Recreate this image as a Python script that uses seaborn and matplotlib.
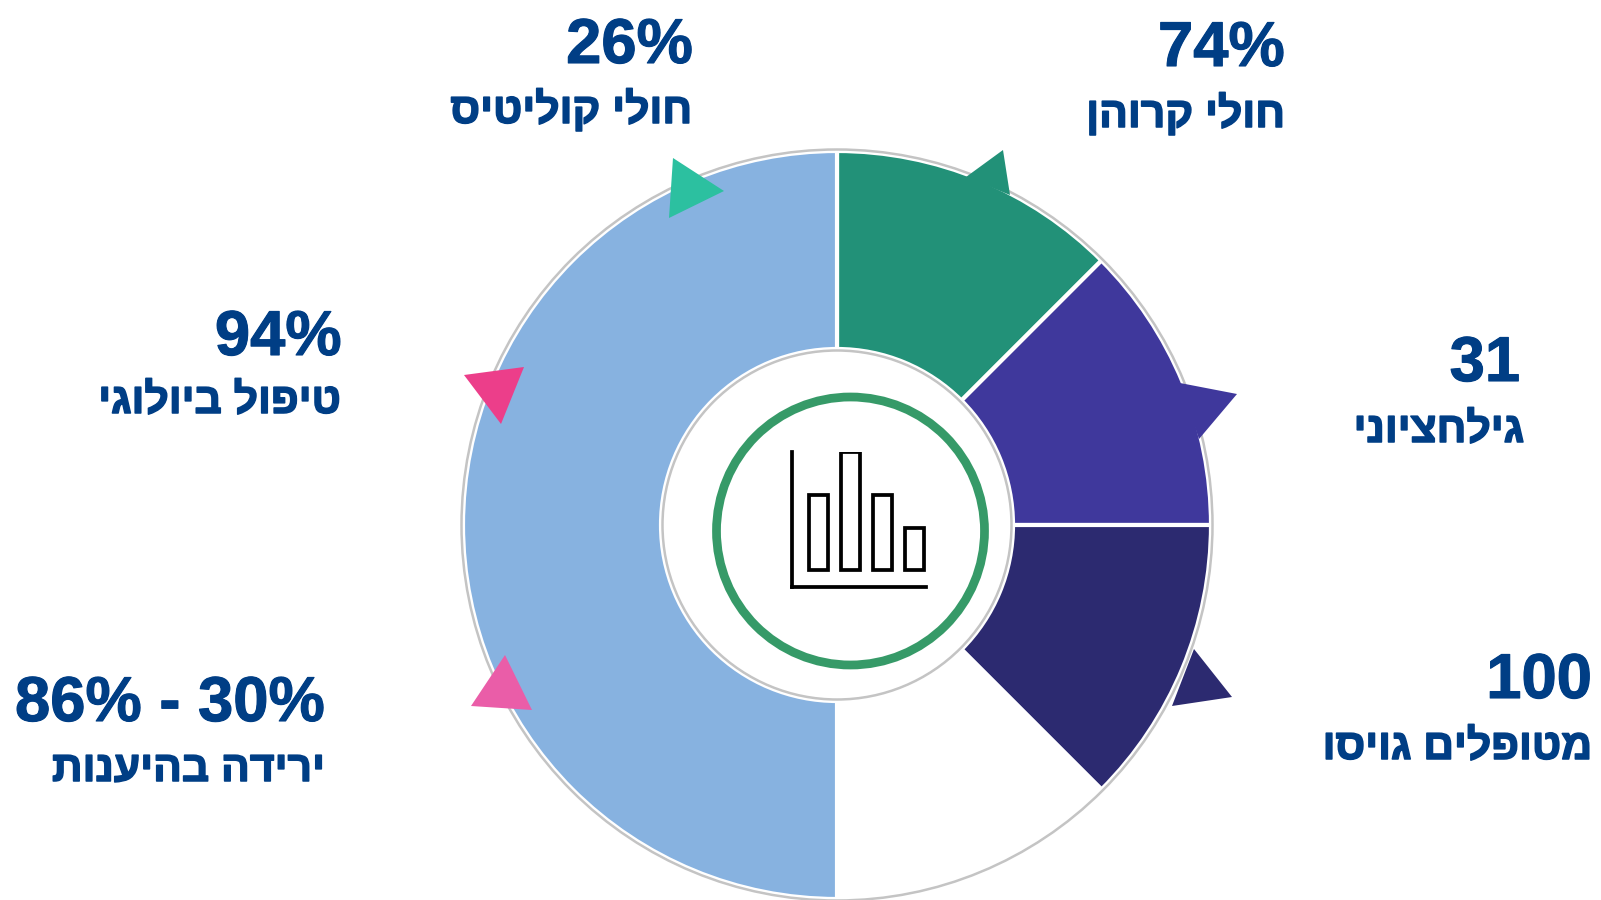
"""Donut chart with Hebrew labels (patient population summary)."""
import matplotlib
matplotlib.use("Agg")
import matplotlib.pyplot as plt
import matplotlib.patheffects as pe
import pandas as pd
import seaborn as sns

sns.set_theme(style="white")
plt.rcParams["font.family"] = ["Liberation Sans", "DejaVu Sans"]

W, H = 1601, 900
TEXT = "#003E85"
GREY = "#C4C4C4"

# Segments, clockwise from 12 o'clock
slice_values = [12.5, 12.5, 12.5, 12.5, 50]
slice_colors = ["#229178", "#3F389C", "#2C2A70", "#FFFFFF", "#87B2E0"]

# Big figures and captions (logical Hebrew order)
big_labels = ["74%", "26%", "94%", "86% - 30%", "31", "100"]
captions = ["חולי קרוהן", "חולי קוליטיס", "טיפול ביולוגי", "ירידה בהיענות", "גילחציוני", "מטופלים גויסו"]

# Bars of the little icon in the middle
icon_cats = ["a", "b", "c", "d"]
icon_vals = [75, 118, 75, 42]


def up(y):
    # picture coords run downwards, the axes upwards
    return H - y


fig = plt.figure(figsize=(W / 100, H / 100), dpi=100)
ax = fig.add_axes([0, 0, 1, 1])
ax.set_xlim(0, W)
ax.set_ylim(0, H)

# --- donut ------------------------------------------------------------------
cx, cy, R, r = 837, up(525), 374, 176
ax.pie(slice_values, colors=slice_colors, startangle=90, counterclock=False,
       center=(cx, cy), radius=R, frame=True,
       wedgeprops=dict(width=R - r, edgecolor="white", linewidth=3))
ax.set_xlim(0, W)
ax.set_ylim(0, H)
ax.axis("off")
for rad in (R + 1.5, r - 1.5):
    ax.add_patch(plt.Circle((cx, cy), rad, fill=False, ec=GREY, lw=1.8, zorder=3))

# --- triangles on the rim ---------------------------------------------------
triangles = [
    ("#2CC0A0", [(673, 158), (724, 191), (669, 218)]),
    ("#229178", [(1003, 150), (1010, 195), (966, 177)]),
    ("#3F389C", [(1180, 383), (1237, 394), (1199, 439)]),
    ("#2C2A70", [(1194, 649), (1232, 697), (1172, 706)]),
    ("#EC3E8A", [(464, 375), (524, 367), (501, 424)]),
    ("#EA5DA8", [(505, 655), (471, 706), (532, 710)]),
]
for col, pts in triangles:
    ax.add_patch(plt.Polygon([(x, up(y)) for x, y in pts], fc=col, ec="none", zorder=4))

# --- green ring and icon ----------------------------------------------------
ax.add_patch(plt.Circle((850.5, up(531)), 134, fill=False, ec="#369A68", lw=6.3, zorder=5))

ix0, ix1, iy0, iy1 = 792, 926, 452, 587
icon = fig.add_axes([ix0 / W, (H - iy1) / H, (ix1 - ix0) / W, (iy1 - iy0) / H])
icon.patch.set_alpha(0)
sns.barplot(data=pd.DataFrame({"c": icon_cats, "v": icon_vals}), x="c", y="v", ax=icon,
            fill=False, color="black", width=0.62, linewidth=2.7, saturation=1,
            err_kws={"linewidth": 0})
icon.set_xlim(-0.83, 3.36)
icon.set_ylim(-17, 118)
icon.set_xlabel("")
icon.set_ylabel("")
icon.set_xticks([])
icon.set_yticks([])
sns.despine(ax=icon)
for side in ("left", "bottom"):
    icon.spines[side].set_linewidth(2.7)
    icon.spines[side].set_color("black")

# --- labels -----------------------------------------------------------------
big_pos = [(1285, 66), (693, 63), (342, 355), (325, 721), (1520, 381), (1592, 698)]
cap_pos = [(1285, 127), (692, 123), (341, 413), (325, 781), (1524, 442), (1592, 759)]
bold = [pe.withStroke(linewidth=1.1, foreground=TEXT)]
for s, (x, y) in zip(big_labels, big_pos):
    ax.text(x, up(y), s, ha="right", va="baseline", fontsize=45.6, weight="bold", color=TEXT,
            path_effects=[pe.withStroke(linewidth=0.8, foreground=TEXT)])
for s, (x, y) in zip(captions, cap_pos):
    # no bidi in matplotlib, so hand it the visual order
    ax.text(x, up(y), s[::-1], ha="right", va="baseline", fontsize=30.7, weight="bold",
            color=TEXT, path_effects=bold)

fig.savefig("out.png", dpi=100)
plt.close(fig)
